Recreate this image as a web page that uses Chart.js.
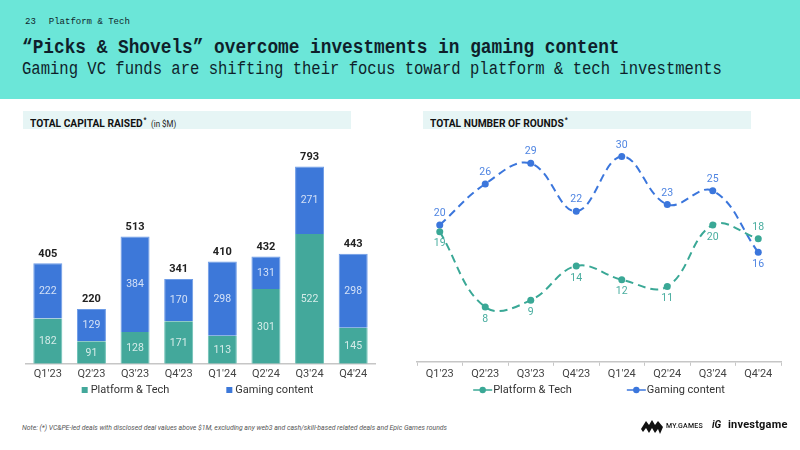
<!DOCTYPE html>
<html><head><meta charset="utf-8">
<script src="https://cdn.jsdelivr.net/npm/chart.js@4"></script>
<style>
html,body{margin:0;padding:0}
body{width:800px;height:450px;overflow:hidden;background:#fff;position:relative;font-family:Roboto,sans-serif}
#hdr{position:absolute;left:0;top:0;width:800px;height:99px;background:#6be6d8}
.mono{font-family:"Liberation Mono","DejaVu Sans Mono",monospace;color:#0f1f2b;position:absolute;white-space:nowrap;transform-origin:0 0;line-height:1}
#pg{left:25px;top:18px;font-size:9px}
#pg b{font-weight:normal;margin-left:13px}
#title{left:22px;top:38px;font-size:20px;font-weight:bold;transform:scaleX(0.889)}
#sub{left:22px;top:60px;font-size:18px;transform:scaleX(0.864)}
.sec{position:absolute;top:111px;height:18px;background:#e6f5f5}
.sec .t{position:absolute;left:7px;top:3px;font-size:11px;font-weight:bold;color:#111;white-space:nowrap;transform:scaleX(0.93);transform-origin:0 0;line-height:12px}
.sec sup{font-size:7px;vertical-align:5px;margin-left:1px}
.sec .u{font-weight:normal;font-size:8.5px;margin-left:5px;color:#222}
canvas{position:absolute}
#note{position:absolute;left:22px;top:424px;font-size:7px;font-style:italic;color:#555;white-space:nowrap;transform:scaleX(0.98);transform-origin:0 0;line-height:8px}
#logos{position:absolute;left:640px;top:417px;height:20px;width:160px}
#mg{position:absolute;left:26px;top:5px;font-size:7px;letter-spacing:0.2px;color:#111;font-family:Roboto;font-weight:500}
#ig{position:absolute;left:72px;top:2px;font-size:10px;font-weight:bold;font-style:italic;color:#111}
#ig2{position:absolute;left:88px;top:1px;font-size:11px;font-weight:bold;color:#111;letter-spacing:0.2px}
</style>
</head>
<body>
<div id="hdr">
  <div id="pg" class="mono">23<b>Platform &amp; Tech</b></div>
  <div id="title" class="mono">“Picks &amp; Shovels” overcome investments in gaming content</div>
  <div id="sub" class="mono">Gaming VC funds are shifting their focus toward platform &amp; tech investments</div>
</div>
<div class="sec" style="left:23px;width:328px"><div class="t">TOTAL CAPITAL RAISED<sup>*</sup><span class="u">(in $M)</span></div></div>
<div class="sec" style="left:423px;width:328px"><div class="t">TOTAL NUMBER OF ROUNDS<sup>*</sup></div></div>
<canvas id="bar" width="400" height="290" style="left:0;top:130px;width:400px;height:290px"></canvas>
<canvas id="line" width="400" height="290" style="left:400px;top:130px;width:400px;height:290px"></canvas>
<div id="note">Note: (*) VC&amp;PE-led deals with disclosed deal values above $1M, excluding any web3 and cash/skill-based related deals and Epic Games rounds</div>
<div id="logos">
  <svg width="24" height="18" style="position:absolute;left:0;top:1px" viewBox="0 0 24 18"><path d="M1 11 L6 3 L9 7 L12 2 L15 7 L18 3 L23 9 L20 16 L18 11 L15 15 L12 10 L9 15 L6 10 L3 14 Z" fill="#111"/></svg>
  <div id="mg">MY.GAMES</div>
  <div id="ig">iG</div>
  <div id="ig2">investgame</div>
</div>
<script>
const quarters = ["Q1'23","Q2'23","Q3'23","Q4'23","Q1'24","Q2'24","Q3'24","Q4'24"];
const seriesNames = ["Platform & Tech","Gaming content"];
const capitalPlatform = [182,91,128,171,113,301,522,145];
const capitalGaming = [222,129,384,170,298,131,271,298];
const capitalTotals = [405,220,513,341,410,432,793,443];
const roundsPlatform = [19,8,9,14,12,11,20,18];
const roundsGaming = [20,26,29,22,30,23,25,16];

const TEAL = '#43a89b', BLUE = '#3d78d9';
const TEAL_LINE = '#3aa896', BLUE_LINE = '#3b76dc';
Chart.defaults.font.family = 'Roboto, sans-serif';
Chart.defaults.color = '#444';

function legendPlugin(cfg){
  return {
    id:'customLegend',
    afterDraw(chart){
      const ctx = chart.ctx;
      ctx.save();
      ctx.font = '11px Roboto';
      ctx.textBaseline = 'middle';
      const items = chart.data.datasets.map(ds=>({text:ds.label,color:ds.legendColor}));
      const widths = items.map(it=>cfg.markerW + cfg.markerGap + ctx.measureText(it.text).width);
      const total = widths.reduce((a,b)=>a+b,0) + cfg.gap*(items.length-1);
      const cx = (chart.chartArea.left + chart.chartArea.right)/2 + cfg.dx;
      let x = cx - total/2;
      const y = cfg.y;
      items.forEach((it,i)=>{
        ctx.fillStyle = it.color; ctx.strokeStyle = it.color;
        if (cfg.type==='box') {
          ctx.fillRect(x, y-3, 6, 6);
        } else {
          ctx.lineWidth = 1.5;
          ctx.beginPath(); ctx.moveTo(x, y); ctx.lineTo(x+cfg.markerW, y); ctx.stroke();
          ctx.beginPath(); ctx.arc(x+cfg.markerW/2, y, 3.2, 0, Math.PI*2); ctx.fill();
        }
        ctx.fillStyle = '#333';
        ctx.fillText(it.text, x + cfg.markerW + cfg.markerGap, y+0.5);
        x += widths[i] + cfg.gap;
      });
      ctx.restore();
    }
  };
}

const barLabels = {
  id:'barLabels',
  afterDatasetsDraw(chart){
    const ctx = chart.ctx;
    ctx.save();
    ctx.textAlign = 'center'; ctx.textBaseline = 'middle';
    chart.data.datasets.forEach((ds,i)=>{
      chart.getDatasetMeta(i).data.forEach((bar,j)=>{
        ctx.font = '10.5px Roboto';
        ctx.fillStyle = 'rgba(255,255,255,0.78)';
        ctx.fillText(String(ds.data[j]), bar.x, (bar.y+bar.base)/2 + 0.5);
      });
    });
    ctx.font = 'bold 11px Roboto';
    ctx.fillStyle = '#222';
    chart.getDatasetMeta(chart.data.datasets.length-1).data.forEach((bar,j)=>{
      ctx.fillText(String(capitalTotals[j]), bar.x, bar.y - 9.5);
    });
    ctx.restore();
  }
};

const lineLabels = {
  id:'lineLabels',
  afterDatasetsDraw(chart){
    const ctx = chart.ctx;
    ctx.save();
    ctx.textAlign = 'center'; ctx.textBaseline = 'middle';
    ctx.font = '10.5px Roboto';
    const dsets = chart.data.datasets;
    dsets.forEach((ds,i)=>{
      const other = dsets[1-i];
      chart.getDatasetMeta(i).data.forEach((pt,j)=>{
        const above = ds.data[j] >= other.data[j];
        ctx.fillStyle = ds.labelColor;
        ctx.fillText(String(ds.data[j]), pt.x, pt.y + (above ? -11.5 : 12));
      });
    });
    ctx.restore();
  }
};

new Chart(document.getElementById('bar'), {
  type:'bar',
  data:{
    labels: quarters,
    datasets:[
      {label:seriesNames[0], data:capitalPlatform, backgroundColor:TEAL, borderColor:'#6cc0b5', borderWidth:{left:1,right:1,top:0,bottom:0}, legendColor:TEAL},
      {label:seriesNames[1], data:capitalGaming, backgroundColor:BLUE, borderColor:'#6d9be6', borderWidth:{left:1,right:1,top:1,bottom:0}, legendColor:BLUE}
    ]
  },
  options:{
    responsive:false, animation:false, devicePixelRatio:1,
    layout:{padding:{left:26,right:25,top:10,bottom:35}},
    datasets:{bar:{categoryPercentage:1, barPercentage:0.665}},
    plugins:{legend:{display:false}, tooltip:{enabled:false}},
    scales:{
      x:{stacked:true, grid:{display:false, drawTicks:false}, border:{display:true,color:'#c6c6c6',width:1.5},
         ticks:{padding:4, font:{size:11}, color:'#444'}},
      y:{stacked:true, display:false, min:0, max:900}
    }
  },
  plugins:[barLabels, legendPlugin({type:'box', markerW:6, markerGap:3, gap:57, y:260, dx:-3})]
});

new Chart(document.getElementById('line'), {
  type:'line',
  data:{
    labels: quarters,
    datasets:[
      {label:seriesNames[0], data:roundsPlatform, borderColor:TEAL_LINE, backgroundColor:TEAL_LINE, pointBackgroundColor:TEAL_LINE, pointBorderColor:TEAL_LINE, legendColor:TEAL_LINE, labelColor:'#48ad9f'},
      {label:seriesNames[1], data:roundsGaming, borderColor:BLUE_LINE, backgroundColor:BLUE_LINE, pointBackgroundColor:BLUE_LINE, pointBorderColor:BLUE_LINE, legendColor:BLUE_LINE, labelColor:'#4f85e2'}
    ]
  },
  options:{
    responsive:false, animation:false, devicePixelRatio:1,
    layout:{padding:{left:17,right:19,top:6,bottom:37}},
    elements:{
      line:{borderWidth:2, borderDash:[8,5], tension:0.4, fill:false},
      point:{radius:3.5, borderWidth:0}
    },
    plugins:{legend:{display:false}, tooltip:{enabled:false}},
    scales:{
      x:{offset:true, grid:{display:true, offset:true, drawOnChartArea:false, drawTicks:true, tickLength:4, color:'#c6c6c6'},
         border:{display:true,color:'#c6c6c6',width:1.5},
         ticks:{padding:2, font:{size:11}, color:'#444'}},
      y:{display:false, min:0, max:33}
    }
  },
  plugins:[lineLabels, legendPlugin({type:'line', markerW:19, markerGap:1, gap:55, y:260, dx:0})]
});
</script>
</body></html>
